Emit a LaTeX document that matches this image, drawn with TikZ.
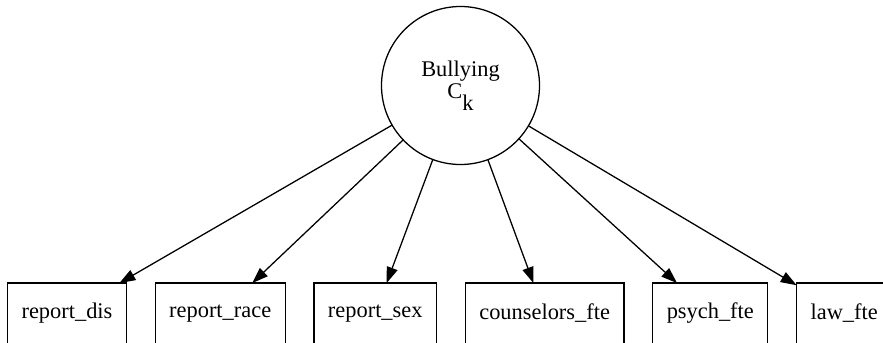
\documentclass[tikz,border=0pt]{standalone}
\usepackage{fontspec}
\setmainfont{Liberation Serif}
\usetikzlibrary{positioning,arrows.meta}

\begin{document}
\begin{tikzpicture}
[x=0.625pt,y=-0.625pt,
 every node/.style={draw=black,line width=0.8pt,inner sep=0pt,outer sep=0pt,font=\fontsize{14}{14}\selectfont},
 latent/.style={circle,minimum size=98.75pt,align=center},
 obs/.style={rectangle,minimum height=38pt,inner xsep=8.75pt},
 node distance=18pt,
 >={Triangle[length=10pt,width=7pt]},
 line width=0.8pt]
\useasboundingbox (0,0) rectangle (883,343);
\node[latent] (bull) at (460.5,85.5) {Bullying\\C\raisebox{-7pt}{k}};
\node[obs] (dis)    at (67,313.5)         {report\_dis};
\node[obs] (race)   [right=of dis]        {report\_race};
\node[obs] (sex)    [right=of race]       {report\_sex};
\node[obs] (couns)  [right=of sex]        {counselors\_fte};
\node[obs] (psych)  [right=of couns]      {psych\_fte};
\node[obs] (law)    [right=of psych]      {law\_fte};
\path[->] (bull) edge (dis);
\path[->] (bull) edge (race);
\path[->] (bull) edge (sex);
\path[->] (bull) edge (couns);
\path[->] (bull) edge (psych);
\path[->] (bull) edge (law);
\end{tikzpicture}
\end{document}
